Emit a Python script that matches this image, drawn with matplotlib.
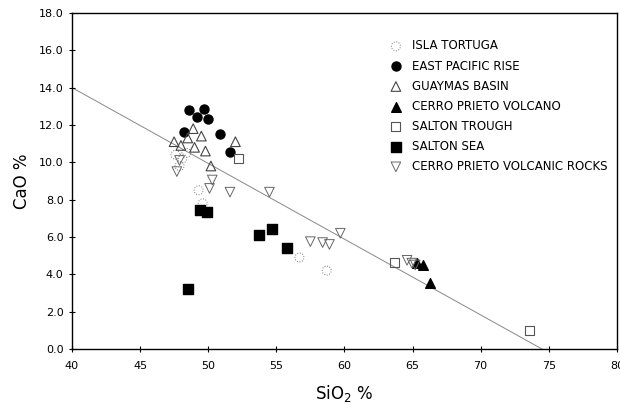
"""
CaO vs SiO2 variation diagram for Gulf of California / Salton Trough volcanics.
"""

import matplotlib
matplotlib.use("Agg")
import matplotlib.pyplot as plt
import numpy as np

# ---- data ----
isla_tortuga_sio2 = [47.6, 48.1, 47.9, 48.4, 49.3, 49.6, 56.7, 58.7]
isla_tortuga_cao = [10.4, 10.2, 9.8, 10.5, 8.5, 7.8, 4.9, 4.2]

epr_sio2 = [48.6, 49.7, 49.2, 50.0, 48.2, 50.9, 51.6]
epr_cao = [12.8, 12.85, 12.45, 12.3, 11.6, 11.5, 10.55]

guaymas_sio2 = [48.9, 49.8, 50.2, 52.0, 47.5, 49.0, 48.5, 49.5, 48.0]
guaymas_cao = [11.8, 10.6, 9.8, 11.1, 11.1, 10.8, 11.3, 11.4, 10.9]

cp_volcano_sio2 = [65.3, 65.75, 66.3]
cp_volcano_cao = [4.6, 4.5, 3.55]

salton_trough_sio2 = [52.2, 63.7, 73.6]
salton_trough_cao = [10.2, 4.65, 1.0]

salton_sea_sio2 = [49.4, 49.9, 53.7, 54.7, 55.8, 48.5]
salton_sea_cao = [7.45, 7.35, 6.1, 6.45, 5.4, 3.2]

cp_rocks_sio2 = [54.5, 59.7, 57.5, 58.4, 58.9, 64.6, 64.95, 65.2,
                 50.3, 51.6, 50.1, 47.9, 47.7]
cp_rocks_cao = [8.4, 6.2, 5.75, 5.7, 5.6, 4.75, 4.6, 4.5,
                9.05, 8.4, 8.6, 10.1, 9.5]

# regression line end points
line_sio2 = [40.0, 74.5]
line_cao = [14.0, 0.0]

x_ticks = np.arange(40, 81, 5)
y_ticks = np.arange(0, 18.1, 2)

narrow = ["Liberation Sans Narrow", "DejaVu Sans"]
plt.rcParams["font.family"] = narrow

fig = plt.figure(figsize=(6.2, 4.15), dpi=100)
ax = fig.add_axes([0.116, 0.159, 0.879, 0.810])

ax.plot(line_sio2, line_cao, color="#888888", lw=0.7, zorder=1)

ms = 42
ax.scatter(isla_tortuga_sio2, isla_tortuga_cao, s=ms, marker="o",
           facecolors="none", edgecolors="#777777", linewidths=0.7,
           linestyle=":", label="ISLA TORTUGA", zorder=3)
ax.scatter(epr_sio2, epr_cao, s=ms, marker="o", color="black",
           label="EAST PACIFIC RISE", zorder=3)
ax.scatter(guaymas_sio2, guaymas_cao, s=ms + 6, marker="^",
           facecolors="none", edgecolors="#444444", linewidths=0.8,
           label="GUAYMAS BASIN", zorder=3)
ax.scatter(cp_volcano_sio2, cp_volcano_cao, s=ms + 6, marker="^",
           color="black", label="CERRO PRIETO VOLCANO", zorder=3)
ax.scatter(salton_trough_sio2, salton_trough_cao, s=ms, marker="s",
           facecolors="none", edgecolors="#555555", linewidths=0.8,
           label="SALTON TROUGH", zorder=3)
ax.scatter(salton_sea_sio2, salton_sea_cao, s=ms + 6, marker="s",
           color="black", label="SALTON SEA", zorder=3)
ax.scatter(cp_rocks_sio2, cp_rocks_cao, s=ms + 6, marker="v",
           facecolors="none", edgecolors="#666666", linewidths=0.7,
           label="CERRO PRIETO VOLCANIC ROCKS", zorder=3)

ax.set_xlim(40, 80)
ax.set_ylim(0, 18)
ax.set_xticks(x_ticks)
ax.set_yticks(y_ticks)
ax.set_yticklabels([f"{v:.1f}" for v in y_ticks])
ax.tick_params(direction="inout", length=5, width=0.8, labelsize=8)
ax.tick_params(axis="x", pad=6)
for side in ax.spines.values():
    side.set_linewidth(1.0)

ax.set_xlabel("SiO$_2$ %", fontsize=12, labelpad=9)
ax.set_ylabel("CaO %", fontsize=12, labelpad=6)

ax.legend(loc="upper left", bbox_to_anchor=(0.575, 0.935), frameon=False,
          fontsize=8.5, handlelength=1.0, handletextpad=0.9,
          labelspacing=0.6, borderaxespad=0)

fig.savefig("out.png", dpi=100)
